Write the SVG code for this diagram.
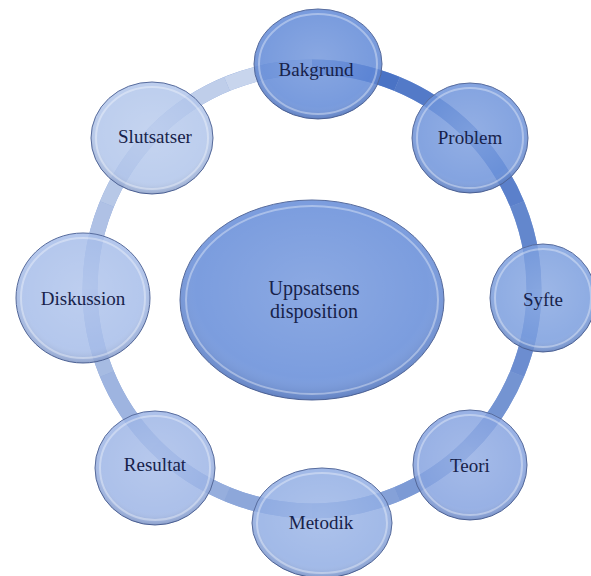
<svg xmlns="http://www.w3.org/2000/svg" width="591" height="576" viewBox="0 0 591 576">
<style>
.ring{fill:none;stroke-width:15;stroke-linecap:butt}
.node{fill-opacity:0.84;stroke:#52679a;stroke-width:1}
.shine{fill:url(#shine);stroke:none}
.bevel{fill:none;stroke:#ffffff;stroke-opacity:0.35;stroke-width:2}
.lbl{font-family:"Liberation Serif","Times New Roman",serif;font-size:19px;fill:#17224a;text-anchor:middle}
.clbl{font-family:"Liberation Serif","Times New Roman",serif;font-size:20px;fill:#17224a;text-anchor:middle}
</style>
<defs>
<radialGradient id="shine" cx="50%" cy="45%" r="55%">
<stop offset="0%" stop-color="#ffffff" stop-opacity="0.16"/>
<stop offset="80%" stop-color="#ffffff" stop-opacity="0.04"/>
<stop offset="100%" stop-color="#1c2d5c" stop-opacity="0.22"/>
</radialGradient>
</defs>
<rect width="591" height="576" fill="#ffffff"/>
<g id="connectors">
<circle cx="312" cy="289" r="222" class="ring" stroke="#8da7da"/>
<path class="ring" stroke="#4a73c5" d="M312,67 A222,222 0 0 1 397,83.9"/>
<path class="ring" stroke="#537ac8" d="M397,83.9 A222,222 0 0 1 469,132"/>
<path class="ring" stroke="#5b80cb" d="M469,132 A222,222 0 0 1 517.1,204"/>
<path class="ring" stroke="#6387cd" d="M517.1,204 A222,222 0 0 1 534,289"/>
<path class="ring" stroke="#6c8dd0" d="M534,289 A222,222 0 0 1 517.1,374"/>
<path class="ring" stroke="#7494d2" d="M517.1,374 A222,222 0 0 1 469,446"/>
<path class="ring" stroke="#7c9ad5" d="M469,446 A222,222 0 0 1 397,494.1"/>
<path class="ring" stroke="#85a1d8" d="M397,494.1 A222,222 0 0 1 312,511"/>
<path class="ring" stroke="#8da7da" d="M312,511 A222,222 0 0 1 227,494.1"/>
<path class="ring" stroke="#96aedd" d="M227,494.1 A222,222 0 0 1 155,446"/>
<path class="ring" stroke="#9eb4e0" d="M155,446 A222,222 0 0 1 106.9,374"/>
<path class="ring" stroke="#a6bbe2" d="M106.9,374 A222,222 0 0 1 90,289"/>
<path class="ring" stroke="#afc1e5" d="M90,289 A222,222 0 0 1 106.9,204"/>
<path class="ring" stroke="#b7c8e7" d="M106.9,204 A222,222 0 0 1 155,132"/>
<path class="ring" stroke="#bfceea" d="M155,132 A222,222 0 0 1 227,83.9"/>
<path class="ring" stroke="#c8d5ed" d="M227,83.9 A222,222 0 0 1 312,67"/>
</g>
<g id="center">
<ellipse cx="312" cy="300" rx="132" ry="100" class="node" fill="#5c86d6" fill-opacity="1"/>
<ellipse cx="312" cy="300" rx="132" ry="100" class="shine"/>
<ellipse cx="312" cy="300" rx="126" ry="94" class="bevel"/>
<text x="314" y="295" class="clbl">Uppsatsens</text>
<text x="314" y="318" class="clbl">disposition</text>
</g>
<g id="bakgrund">
<ellipse cx="318" cy="64" rx="64" ry="55" class="node" fill="#5883d5"/>
<ellipse cx="318" cy="64" rx="64" ry="55" class="shine"/>
<ellipse cx="318" cy="64" rx="59" ry="50" class="bevel"/>
<text x="316" y="76" class="lbl">Bakgrund</text>
</g>
<g id="problem">
<ellipse cx="470" cy="138" rx="58" ry="55" class="node" fill="#678ed9"/>
<ellipse cx="470" cy="138" rx="58" ry="55" class="shine"/>
<ellipse cx="470" cy="138" rx="53" ry="50" class="bevel"/>
<text x="470" y="144" class="lbl">Problem</text>
</g>
<g id="syfte">
<ellipse cx="543" cy="298" rx="53" ry="54" class="node" fill="#7398dc"/>
<ellipse cx="543" cy="298" rx="53" ry="54" class="shine"/>
<ellipse cx="543" cy="298" rx="48" ry="49" class="bevel"/>
<text x="543" y="306" class="lbl">Syfte</text>
</g>
<g id="teori">
<ellipse cx="470" cy="465" rx="57" ry="55" class="node" fill="#7f9fdf"/>
<ellipse cx="470" cy="465" rx="57" ry="55" class="shine"/>
<ellipse cx="470" cy="465" rx="52" ry="50" class="bevel"/>
<text x="470" y="472" class="lbl">Teori</text>
</g>
<g id="metodik">
<ellipse cx="322" cy="523" rx="70" ry="55" class="node" fill="#8ca9e2"/>
<ellipse cx="322" cy="523" rx="70" ry="55" class="shine"/>
<ellipse cx="322" cy="523" rx="65" ry="50" class="bevel"/>
<text x="321" y="529" class="lbl">Metodik</text>
</g>
<g id="resultat">
<ellipse cx="155" cy="468" rx="60" ry="57" class="node" fill="#98b2e5"/>
<ellipse cx="155" cy="468" rx="60" ry="57" class="shine"/>
<ellipse cx="155" cy="468" rx="55" ry="52" class="bevel"/>
<text x="155" y="471" class="lbl">Resultat</text>
</g>
<g id="diskussion">
<ellipse cx="83" cy="298" rx="67" ry="65" class="node" fill="#a2bae8"/>
<ellipse cx="83" cy="298" rx="67" ry="65" class="shine"/>
<ellipse cx="83" cy="298" rx="62" ry="60" class="bevel"/>
<text x="83" y="305" class="lbl">Diskussion</text>
</g>
<g id="slutsatser">
<ellipse cx="152" cy="138" rx="61" ry="56" class="node" fill="#adc2ea"/>
<ellipse cx="152" cy="138" rx="61" ry="56" class="shine"/>
<ellipse cx="152" cy="138" rx="56" ry="51" class="bevel"/>
<text x="155" y="143" class="lbl">Slutsatser</text>
</g>
</svg>
